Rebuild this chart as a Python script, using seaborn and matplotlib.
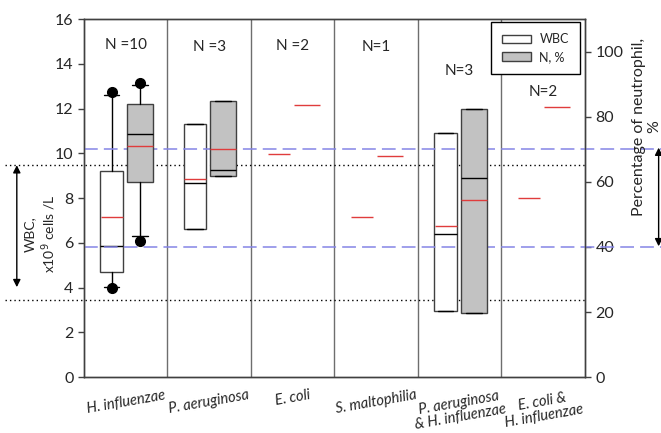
import numpy as np
import pandas as pd
import seaborn as sns
import matplotlib.pyplot as plt
import matplotlib.transforms as mtransforms
from matplotlib.patches import Patch

groups = ["H. influenzae", "P. aeruginosa", "E. coli", "S. maltophilia",
          "P. aeruginosa\n& H. influenzae", "E. coli &\nH. influenzae"]
n_text = ["N =10", "N =3", "N =2", "N=1", "N=3", "N=2"]

# groups that have a box (index into groups)
box_groups = [0, 1, 4]

# WBC, x10^9 cells/L (left axis)
wbc_q1 = [4.71, 6.61, 2.95]
wbc_med = [5.87, 8.67, 6.39]
wbc_q3 = [9.21, 11.3, 10.9]
wbc_lo = [4.04, 6.61, 2.95]
wbc_hi = [12.6, 11.3, 10.9]
wbc_out = [[3.99, 12.72], [], []]
wbc_mean = [7.14, 8.85, 9.97, 7.15, 6.75, 8.0]

# neutrophils, % (right axis)
neu_q1 = [59.8, 61.8, 19.6]
neu_med = [74.6, 63.7, 61.3]
neu_q3 = [83.9, 84.9, 82.4]
neu_lo = [43.5, 61.8, 19.6]
neu_hi = [89.6, 84.9, 82.4]
neu_out = [[41.9, 90.4], [], []]
neu_mean = [71.1, 70.2, 83.7, 68.0, 54.5, 83.1]

# reference ranges
wbc_ref = [3.45, 9.5]
neu_ref = [40, 70]

sns.set_style("ticks")
plt.rcParams['font.family'] = ['Lato', 'DejaVu Sans']

EDGE = '#404040'
RED = '#e03c3c'
BLUE = '#8585e6'
GRAY = '#c2c2c2'
OFF = 0.17

fig = plt.figure(figsize=(6.61, 4.33), dpi=100)
ax = fig.add_axes([0.127, 0.129, 0.758, 0.827])
ax2 = ax.twinx()


def make_stats(q1, med, q3, lo, hi, out):
    return [dict(q1=a, med=b, q3=c, whislo=d, whishi=e, fliers=f)
            for a, b, c, d, e, f in zip(q1, med, q3, lo, hi, out)]


common = dict(patch_artist=True, showmeans=False, manage_ticks=False,
              medianprops=dict(color='black', lw=1),
              whiskerprops=dict(color='black', lw=1),
              capprops=dict(color='black', lw=1),
              flierprops=dict(marker='o', markerfacecolor='black',
                              markeredgecolor='black', markersize=7),
              capwidths=0.19)

pos = np.array(box_groups, dtype=float)
ax.bxp(make_stats(wbc_q1, wbc_med, wbc_q3, wbc_lo, wbc_hi, wbc_out),
       positions=pos - OFF, widths=0.27,
       boxprops=dict(facecolor='white', edgecolor=EDGE, lw=1), **common)
ax2.bxp(make_stats(neu_q1, neu_med, neu_q3, neu_lo, neu_hi, neu_out),
        positions=pos + OFF, widths=0.31,
        boxprops=dict(facecolor=GRAY, edgecolor=EDGE, lw=1), **common)

# mean marks
x = np.arange(len(groups))
df_w = pd.DataFrame({'x': x - OFF, 'mean': wbc_mean})
df_n = pd.DataFrame({'x': x + OFF, 'mean': neu_mean})
sns.scatterplot(data=df_w, x='x', y='mean', marker='_', s=16.5 ** 2,
                color=RED, linewidth=1, ax=ax, zorder=5, legend=False)
sns.scatterplot(data=df_n, x='x', y='mean', marker='_', s=18.5 ** 2,
                color=RED, linewidth=1, ax=ax2, zorder=5, legend=False)

# separators between groups
for s in np.arange(0.5, len(groups) - 1, 1):
    ax.axvline(s, color='#6e6e6e', lw=1, zorder=0)

# reference lines (they run past the axes)
tr = mtransforms.blended_transform_factory(ax.transAxes, ax.transData)
tr2 = mtransforms.blended_transform_factory(ax2.transAxes, ax2.transData)
for v in wbc_ref:
    ax.plot([-0.157, 1.0], [v, v], transform=tr, clip_on=False,
            color='black', lw=1, ls=(0, (1, 2.2)), zorder=1)
for v in neu_ref:
    ax2.plot([0.0, 1.16], [v, v], transform=tr2, clip_on=False,
             color=BLUE, lw=1.1, ls=(0, (9, 4)), zorder=1)

arrow = dict(arrowstyle='<|-|>', color='black', lw=1, shrinkA=0, shrinkB=0,
             mutation_scale=11)
ax.annotate('', xy=(-0.134, 9.47), xytext=(-0.134, 4.02), xycoords=tr,
            textcoords=tr, arrowprops=arrow, annotation_clip=False)
ax2.annotate('', xy=(1.147, 70.5), xytext=(1.147, 40.2), xycoords=tr2,
             textcoords=tr2, arrowprops=arrow, annotation_clip=False)

# N labels
n_y = [14.85, 14.75, 14.8, 14.75, 13.7, 12.75]
for i, (t, yy) in enumerate(zip(n_text, n_y)):
    ax.text(i, yy, t, ha='center', va='center', fontsize=11)

# axes
ax.set_xlim(-0.5, len(groups) - 0.5)
ax.set_ylim(0, 16)
ax2.set_ylim(0, 110)
ax.set_yticks(range(0, 17, 2))
ax2.set_yticks(range(0, 101, 20))
ax.set_xticks(x)
ax.set_xticklabels(groups, rotation=10, fontstyle='italic', fontsize=10.5,
                   ha='center', linespacing=1.0)
ax.tick_params(axis='x', length=0, pad=8)
ax.tick_params(axis='y', labelsize=11.5, length=4, color=EDGE, width=1)
ax2.tick_params(axis='y', labelsize=11.5, length=4, color=EDGE, width=1)
for a in (ax, ax2):
    for sp in a.spines.values():
        sp.set_color(EDGE)
        sp.set_linewidth(1)
ax.set_xlabel('')
ax.set_ylabel('')
ax2.set_ylabel('')

ax.text(-0.086, 0.40, 'WBC,\nx10$^{9}$ cells /L', transform=ax.transAxes,
        rotation=90, ha='center', va='center', multialignment='center',
        fontsize=10)
ax2.text(1.123, 0.70, 'Percentage of neutrophil,\n%', transform=ax2.transAxes,
         rotation=90, ha='center', va='center', multialignment='center',
         fontsize=11.5)

handles = [Patch(facecolor='white', edgecolor=EDGE, lw=1),
           Patch(facecolor=GRAY, edgecolor=EDGE, lw=1)]
leg = ax2.legend(handles, ['WBC', 'N, %'], loc='upper right',
                 bbox_to_anchor=(0.99, 0.992), borderaxespad=0, fontsize=9,
                 handlelength=2.3, handleheight=0.65, handletextpad=0.65,
                 borderpad=0.9, labelspacing=0.45, fancybox=False,
                 framealpha=1, edgecolor='black')
leg.get_frame().set_linewidth(1)

fig.savefig('out.png', dpi=100)
